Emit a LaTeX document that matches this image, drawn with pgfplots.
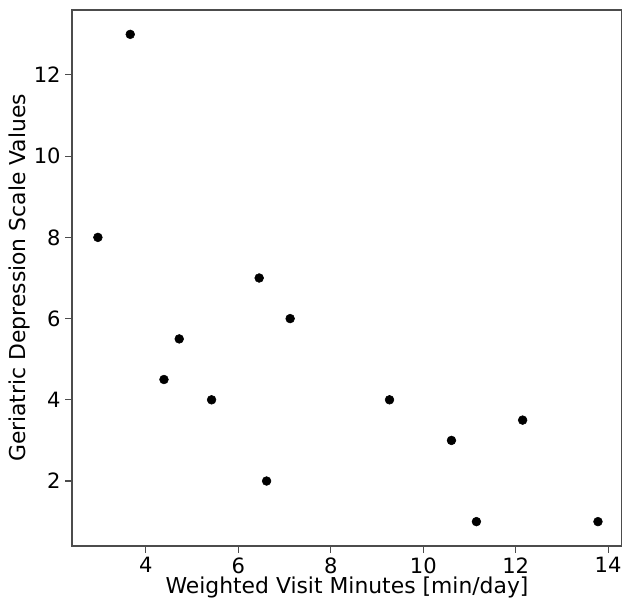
\documentclass[border=0pt]{standalone}
\usepackage{fontspec}
\setmainfont{DejaVu Sans}
\usepackage{pgfplots}
\pgfplotsset{compat=1.18}
\begin{document}
\begin{tikzpicture}
\begin{axis}[
  name=ax,
  scale only axis,
  width=412.5pt,height=402pt,
  xmin=2.40,xmax=14.30,ymin=0.4,ymax=13.6,
  xtick={4,6,...,14},ytick={2,4,...,12},
  tick align=outside,tick pos=lower,
  major tick length=5pt,
  axis line style={black!70,line width=0.8pt},
  every tick/.style={black!70,line width=0.8pt},
  tick label style={font=\fontsize{15.8}{18}\selectfont},
  label style={font=\fontsize{16.4}{19}\selectfont},
  /pgf/number format/assume math mode=true,
  xlabel={Weighted Visit Minutes [min/day]},
  ylabel={Geriatric Depression Scale Values},
  xlabel style={yshift=4pt},
  ylabel style={yshift=-4pt},
]
\addplot[only marks,mark=*,mark size=3.3pt,black] coordinates {
(2.96,8) (3.66,13) (4.39,4.5) (4.72,5.5) (5.42,4) (6.45,7) (6.61,2)
(7.12,6) (9.27,4) (10.61,3) (11.15,1) (12.15,3.5) (13.78,1)};
\end{axis}
\pgfresetboundingbox
\path ([xshift=-54pt,yshift=-39.75pt]ax.south west) rectangle ([yshift=7.5pt]ax.north east);
\end{tikzpicture}
\end{document}
